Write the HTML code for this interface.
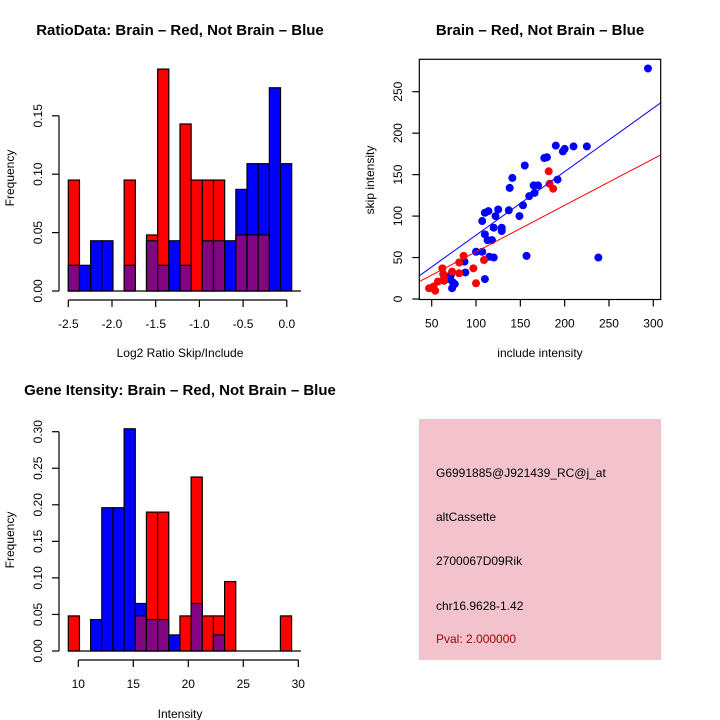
<!DOCTYPE html>
<html><head><meta charset="utf-8"><style>
html,body{margin:0;padding:0;background:#fff;}
svg{display:block;font-family:"Liberation Sans",sans-serif;}
</style></head><body>
<svg id="s" width="720" height="720" viewBox="0 0 720 720">
<rect x="0" y="0" width="720" height="720" fill="#fff"/>
<defs>
<pattern id="pp" width="2" height="2" patternUnits="userSpaceOnUse"><rect width="2" height="2" fill="#800080"/><rect width="1" height="1" fill="#8a108a"/></pattern>
</defs>
<text x="180" y="35" text-anchor="middle" font-size="15" font-weight="bold">RatioData: Brain – Red, Not Brain – Blue</text>
<text x="180" y="357" text-anchor="middle" font-size="12">Log2 Ratio Skip/Include</text>
<text transform="translate(14,178) rotate(-90)" text-anchor="middle" font-size="12">Frequency</text>
<text x="540" y="35" text-anchor="middle" font-size="15" font-weight="bold">Brain – Red, Not Brain – Blue</text>
<text x="540" y="357" text-anchor="middle" font-size="12">include intensity</text>
<text transform="translate(374,180) rotate(-90)" text-anchor="middle" font-size="12">skip intensity</text>
<text x="180" y="395" text-anchor="middle" font-size="15" font-weight="bold">Gene Itensity: Brain – Red, Not Brain – Blue</text>
<text x="180" y="718" text-anchor="middle" font-size="12">Intensity</text>
<text transform="translate(14,540) rotate(-90)" text-anchor="middle" font-size="12">Frequency</text>
<g>
<rect x="419" y="419" width="242" height="241" fill="#f2c3cd"/>
<text x="436" y="477" font-size="12">G6991885@J921439_RC@j_at</text>
<text x="436" y="521" font-size="12">altCassette</text>
<text x="436" y="565" font-size="12">2700067D09Rik</text>
<text x="436" y="610" font-size="12">chr16.9628-1.42</text>
<text x="436" y="643" font-size="12" fill="#a00000">Pval: 2.000000</text>
</g>
</svg>
<script>
// Ratio histogram data
const ratioStart = -2.5;
const ratioBinWidth = 0.1278;
const ratioRed = [0.095,0,0,0,0,0.095,0,0.048,0.19,0,0.143,0.095,0.095,0.095,0,0.048,0.048,0.048,0,0];
const ratioBlue = [0.022,0.022,0.043,0.043,0,0.022,0,0.043,0.022,0.043,0.022,0,0.043,0.043,0.043,0.087,0.109,0.109,0.174,0.109];
const ratioXTicks = [-2.5,-2.0,-1.5,-1.0,-0.5,0.0];
const ratioXLabels = ["-2.5","-2.0","-1.5","-1.0","-0.5","0.0"];
const ratioYTicks = [0,0.05,0.10,0.15];
const ratioYLabels = ["0.00","0.05","0.10","0.15"];
// Intensity histogram data
const intStart = 9.09;
const intBinWidth = 1.015;
const intRed = [0.048,0,0,0,0,0,0.048,0.19,0.19,0,0.048,0.238,0.048,0.048,0.095,0,0,0,0,0.048];
const intBlue = [0,0,0.043,0.196,0.196,0.304,0.065,0.043,0.043,0.022,0,0.065,0,0.022,0,0,0,0,0,0];
const intXTicks = [10,15,20,25,30];
const intXLabels = ["10","15","20","25","30"];
const intYTicks = [0,0.05,0.10,0.15,0.20,0.25,0.30];
const intYLabels = ["0.00","0.05","0.10","0.15","0.20","0.25","0.30"];
// Scatter data
const blueX = [294,225,210,200,198,190,180,177,192,155,141,138,137,149,153,160,166,165,170,125,114,110,107,122,120,129,129,110,113,118,100,107,115,120,157,238,87,88,110,70,72,74,76,73,71];
const blueY = [278,184,184,181,178,185,171,170,144,161,146,134,107,100,113,124,128,137,137,108,106,104,94,100,86,86,82,78,71,71,57,57,51,50,52,50,45,32,24,24,30,20,18,13,27];
const redX = [182,183,187,86,81,109,97,100,81,73,62,63,64,57,52,47,54,64];
const redY = [154,139,133,52,44,47,37,19,31,33,37,30,22,21,15,13,10,25];
const blueFit = [0.4,0.766];
const redFit = [0.8,0.561];
const scXTicks = [50,100,150,200,250,300];
const scYTicks = [0,50,100,150,200,250];

const NS="http://www.w3.org/2000/svg";
const svg=document.getElementById('s');
function mk(tag,attrs,parent){const e=document.createElementNS(NS,tag);for(const k in attrs)e.setAttribute(k,attrs[k]);(parent||svg).appendChild(e);return e;}

function hist(cfg){
  const g=mk('g',{});
  
  
  const sx=v=>cfg.x0+(v-cfg.xv0)*cfg.kx;
  const sy=v=>cfg.y0-v*cfg.ky;
  for(let i=0;i<cfg.red.length;i++){
    const a=sx(cfg.start+i*cfg.bw), b=sx(cfg.start+(i+1)*cfg.bw);
    const r=cfg.red[i], bl=cfg.blue[i];
    const lo=Math.min(r,bl), hi=Math.max(r,bl);
    if(hi<=0) continue;
    const topColor = r>=bl ? '#ff0000' : '#0000ff';
    const t=mk('rect',{x:a,y:sy(hi),width:b-a,height:sy(0)-sy(hi),fill:topColor,stroke:'#000','stroke-width':1.2},g);
    
    
    if(lo>0){
      const p=mk('rect',{x:a,y:sy(lo),width:b-a,height:sy(0)-sy(lo),fill:'url(#pp)',stroke:'#000','stroke-width':1.2},g);
      
      
    }
  }
  mk('line',{x1:68,x2:301,y1:cfg.y0,y2:cfg.y0,stroke:'#000','stroke-width':1.2},g);
  const ya=mk('g',{},g);
  
  
  mk('line',{x1:59,x2:59,y1:sy(cfg.yt[0]),y2:sy(cfg.yt[cfg.yt.length-1]),stroke:'#000','stroke-width':1.2},ya);
  cfg.yt.forEach((v,i)=>{
    mk('line',{x1:52,x2:59,y1:sy(v),y2:sy(v),stroke:'#000','stroke-width':1.2},ya);
    const t=mk('text',{transform:`translate(42,${sy(v)}) rotate(-90)`,'text-anchor':'middle','font-size':12},ya);
    t.textContent=cfg.yl[i];
  });
  const xa=mk('g',{},g);
  
  
  const ax=cfg.y0+9;
  mk('line',{x1:sx(cfg.xt[0]),x2:sx(cfg.xt[cfg.xt.length-1]),y1:ax,y2:ax,stroke:'#000','stroke-width':1.2},xa);
  cfg.xt.forEach((v,i)=>{
    mk('line',{x1:sx(v),x2:sx(v),y1:ax,y2:ax+7,stroke:'#000','stroke-width':1.2},xa);
    const t=mk('text',{x:sx(v),y:ax+28,'text-anchor':'middle','font-size':12},xa);
    t.textContent=cfg.xl[i];
  });
}
hist({name:'ratio-histogram',red:ratioRed,blue:ratioBlue,start:ratioStart,bw:ratioBinWidth,x0:68.3,xv0:-2.5,kx:87.4,y0:291,ky:1168,xt:ratioXTicks,xl:ratioXLabels,yt:ratioYTicks,yl:ratioYLabels});
hist({name:'intensity-histogram',red:intRed,blue:intBlue,start:intStart,bw:intBinWidth,x0:78.3,xv0:10,kx:11,y0:651,ky:731,xt:intXTicks,xl:intXLabels,yt:intYTicks,yl:intYLabels});

(function(){
  const g=mk('g',{});
  
  
  const sx=v=>431.7+(v-50)*0.8864;
  const sy=v=>299-v*0.8292;
  const L=419.3,R=660.7,T=59.3,B=299.5;
  const clip=mk('clipPath',{id:'sc'},g);mk('rect',{x:L,y:T,width:R-L,height:B-T},clip);
  const xmin=(L-431.7)/0.8864+50, xmax=(R-431.7)/0.8864+50;
  blueX.forEach((x,i)=>{const c=mk('circle',{cx:sx(x),cy:sy(blueY[i]),r:4,fill:'#0000ff'},g);
    
    });
  redX.forEach((x,i)=>{const c=mk('circle',{cx:sx(x),cy:sy(redY[i]),r:4,fill:'#ff0000'},g);
    
    });
  const bl=mk('line',{x1:sx(xmin),y1:sy(blueFit[0]+blueFit[1]*xmin),x2:sx(xmax),y2:sy(blueFit[0]+blueFit[1]*xmax),stroke:'#0000ff','stroke-width':1,'clip-path':'url(#sc)'},g);
  
  
  const rl=mk('line',{x1:sx(xmin),y1:sy(redFit[0]+redFit[1]*xmin),x2:sx(xmax),y2:sy(redFit[0]+redFit[1]*xmax),stroke:'#ff0000','stroke-width':1,'clip-path':'url(#sc)'},g);
  
  
  const box=mk('rect',{x:L,y:T,width:R-L,height:B-T,fill:'none',stroke:'#000','stroke-width':1.2},g);
  
  
  scXTicks.forEach(v=>{mk('line',{x1:sx(v),x2:sx(v),y1:B,y2:B+7,stroke:'#000','stroke-width':1.2},g);
    const t=mk('text',{x:sx(v),y:B+28,'text-anchor':'middle','font-size':12},g);t.textContent=v;
    
    });
  scYTicks.forEach(v=>{mk('line',{x1:L-7,x2:L,y1:sy(v),y2:sy(v),stroke:'#000','stroke-width':1.2},g);
    const t=mk('text',{transform:`translate(402,${sy(v)}) rotate(-90)`,'text-anchor':'middle','font-size':12},g);t.textContent=v;
    
    });
})();
</script>
</body></html>
